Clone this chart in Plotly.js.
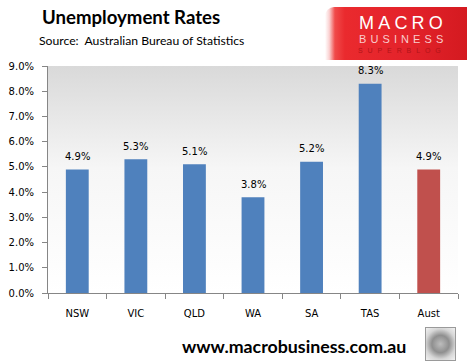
<!DOCTYPE html>
<html>
<head>
<meta charset="utf-8">
<script src="https://cdn.plot.ly/plotly-3.0.1.min.js"></script>
<style>
  html, body { margin:0; padding:0; background:#ffffff; }
  #wrap { position:relative; width:474px; height:362px; overflow:hidden; }
  #bg { position:absolute; left:48px; top:66px; width:410px; height:227px;
        background:linear-gradient(to bottom, #d9d9d9 0%, #e9e9e9 25%, #f6f6f6 45%, #ffffff 100%); }
  #chart { position:absolute; left:0; top:0; width:474px; height:362px; }
  #logo { position:absolute; left:325px; top:7px; width:142px; height:53px;
          border-top-left-radius:9px;
          background:linear-gradient(to right, #ffffff 0%, #fad2d2 3%, #f04a4a 7%, #ea2a2e 14%, #e3222a 60%, #d41a20 100%);
          font-family:"Liberation Sans", Arial, sans-serif; line-height:1; }
  #logo .m { position:absolute; left:34px; top:6.7px; color:#ffffff; font-size:18px; letter-spacing:4.2px; white-space:nowrap; }
  #logo .b { position:absolute; left:34px; top:26.6px; color:#f9cccc; font-size:11px; letter-spacing:4.1px; white-space:nowrap; }
  #logo .s { position:absolute; left:33px; top:40px; color:#b21418; font-size:7px; letter-spacing:4.9px; white-space:nowrap; }
  #wolf { position:absolute; left:425px; top:327px; width:29px; height:32px; border:1px solid #9a9a9a;
          background:radial-gradient(circle at 50% 50%, #bdbdbd 0%, #8f8f8f 40%, #d6d6d6 70%, #f2f2f2 100%); }
</style>
</head>
<body>
<div id="wrap">
  <div id="bg"></div>
  <div id="chart"></div>
  <div id="logo"><span class="m">MACRO</span><span class="b">BUSINESS</span><span class="s">SUPERBLOG</span></div>
  <div id="wolf"></div>
</div>
<script>
var categories = ["NSW", "VIC", "QLD", "WA", "SA", "TAS", "Aust"];
var rates = [4.9, 5.3, 5.1, 3.8, 5.2, 8.3, 4.9];
var barColors = ["#4f81bd", "#4f81bd", "#4f81bd", "#4f81bd", "#4f81bd", "#4f81bd", "#c0504d"];
var yTicks = [0, 1, 2, 3, 4, 5, 6, 7, 8, 9];

var axisFont = {family: "DejaVu Sans, Verdana, sans-serif", size: 10, color: "#000000"};

var data = [{
  type: "bar",
  x: categories,
  y: rates,
  marker: {color: barColors},
  hoverinfo: "none"
}];

var labelAnnotations = categories.map(function(c, i){
  return {x: c, y: rates[i], xref: "x", yref: "y", text: rates[i].toFixed(1) + "%",
          showarrow: false, yanchor: "middle", yshift: 13, font: axisFont};
});

var layout = {
  width: 474, height: 362,
  margin: {l: 48, r: 16, t: 66, b: 69, pad: 0},
  paper_bgcolor: "rgba(0,0,0,0)",
  plot_bgcolor: "rgba(0,0,0,0)",
  bargap: 0.61,
  showlegend: false,
  xaxis: {
    type: "category",
    showline: true, linecolor: "#868686", linewidth: 1,
    ticks: "outside", tickson: "boundaries", ticklen: 5, tickcolor: "#868686",
    tickfont: axisFont,
    ticklabelstandoff: 11,
    showgrid: false, zeroline: false,
    fixedrange: true
  },
  yaxis: {
    range: [0, 9],
    tickvals: yTicks,
    ticktext: yTicks.map(function(v){ return v.toFixed(1) + "%"; }),
    showline: true, linecolor: "#868686", linewidth: 1,
    ticks: "outside", ticklen: 5, tickcolor: "#868686",
    tickfont: axisFont,
    ticklabelstandoff: 6,
    showgrid: false, zeroline: false,
    fixedrange: true
  },
  annotations: labelAnnotations.concat([
    {text: "<b>Unemployment Rates</b>", xref: "paper", yref: "paper",
     x: (40 - 48) / 410, y: (293 - 17) / 227, xanchor: "left", yanchor: "middle",
     showarrow: false, font: {family: "Lato, sans-serif", size: 18.6, color: "#000000"}},
    {text: "Source:  Australian Bureau of Statistics", xref: "paper", yref: "paper",
     x: (37 - 48) / 410, y: (293 - 40) / 227, xanchor: "left", yanchor: "middle",
     showarrow: false, font: {family: "Lato, sans-serif", size: 12.2, color: "#000000"}},
    {text: "<b>www.macrobusiness.com.au</b>", xref: "paper", yref: "paper",
     x: (180 - 48) / 410, y: (293 - 346) / 227, xanchor: "left", yanchor: "middle",
     showarrow: false, font: {family: "Lato, sans-serif", size: 17.8, color: "#000000"}}
  ])
};

Plotly.newPlot("chart", data, layout, {displayModeBar: false, staticPlot: true});
</script>
</body>
</html>
